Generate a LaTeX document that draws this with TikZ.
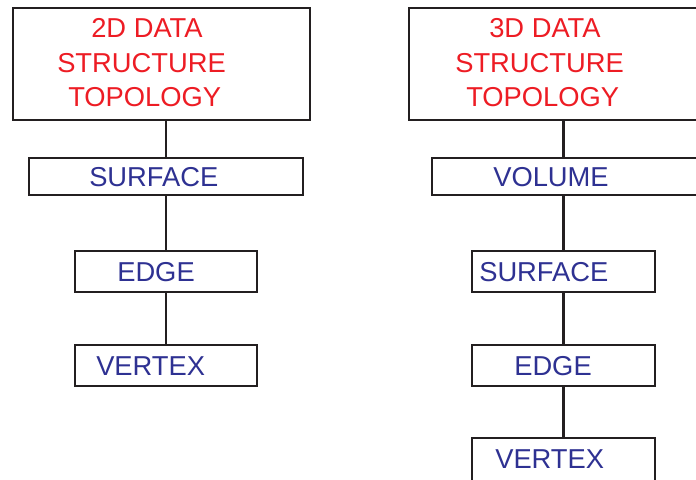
\documentclass[tikz,border=0pt]{standalone}
\usepackage{fontspec}
\setmainfont{Liberation Sans}
\definecolor{headred}{HTML}{ED1C24}
\definecolor{itemblue}{HTML}{2E3192}
\definecolor{frame}{HTML}{231F20}
\begin{document}
\begin{tikzpicture}[x=0.75pt,y=-0.75pt,
  box/.style={draw=frame,line width=1.8pt,rectangle,inner sep=0pt,
    minimum width=#1},
  link/.style={draw=frame,line width=1.8pt},
  head/.style={anchor=base west,inner sep=0pt,text=headred,
    font=\fontsize{20.5}{24}\selectfont},
  item/.style={anchor=base west,inner sep=0pt,text=itemblue,
    font=\fontsize{20.5}{24}\selectfont}]
\useasboundingbox (0,0) rectangle (696,479);
\clip (0,0) rectangle (696,479);

% ---- 2D hierarchy ----
\node[box=222.75pt,minimum height=84pt] (ltop) at (161.5,64) {};
\node[box=205.5pt,minimum height=27.75pt] (lsurf) at (166,176.5) {};
\node[box=136.5pt,minimum height=30.75pt] (ledge) at (166,271.5) {};
\node[box=136.5pt,minimum height=30.75pt] (lvert) at (166,365.5) {};

\node[head] (lt1) at (91,37) {2D DATA};
\node[head] (lt2) at (57,72) {STRUCTURE};
\node[head] (lt3) at (68,106) {TOPOLOGY};
\node[item] (ls) at (89,186) {SURFACE};
\node[item] (le) at (117,281) {EDGE};
\node[item] (lv) at (96,375) {VERTEX};

\draw[link] (lsurf.north |- ltop.south) -- (lsurf.north);
\draw[link] (lsurf.south) -- (ledge.north);
\draw[link] (ledge.south) -- (lvert.north);

% ---- 3D hierarchy (the top two boxes run past the right margin) ----
\node[box=231.75pt,minimum height=84pt] (rtop) at (563.5,64) {};
\node[box=208.5pt,minimum height=27.75pt] (rvol) at (571,176.5) {};
\node[box=137.25pt,minimum height=30.75pt] (rsurf) at (563.5,271.5) {};
\node[box=137.25pt,minimum height=30.75pt] (redge) at (563.5,365.5) {};
\node[box=137.25pt,minimum height=46.5pt] (rvert) at (563.5,469) {};

\node[head] (rt1) at (489,37) {3D DATA};
\node[head] (rt2) at (455,72) {STRUCTURE};
\node[head] (rt3) at (466,106) {TOPOLOGY};
\node[item] (rv) at (493,186) {VOLUME};
\node[item] (rs) at (479,281) {SURFACE};
\node[item] (re) at (514,375) {EDGE};
\node[item] (rx) at (495,468) {VERTEX};

\draw[link] (rtop.south) -- (rsurf.north |- rvol.north);
\draw[link] (rsurf.north |- rvol.south) -- (rsurf.north);
\draw[link] (rsurf.south) -- (redge.north);
\draw[link] (redge.south) -- (rvert.north);
\end{tikzpicture}
\end{document}
